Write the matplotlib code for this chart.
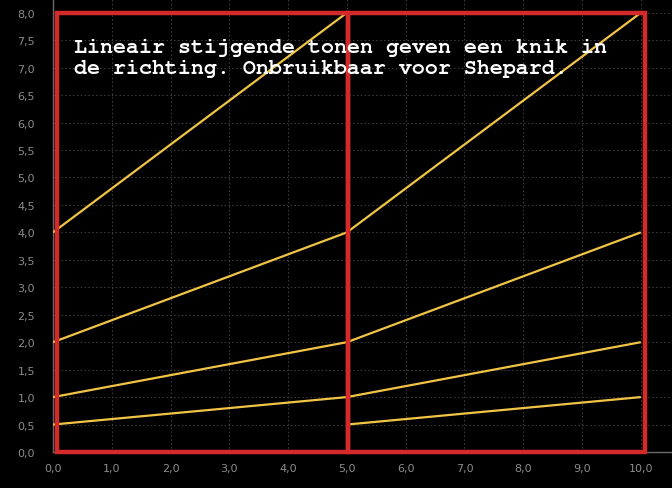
import matplotlib
matplotlib.use("Agg")
import matplotlib.pyplot as plt
from matplotlib.patches import Rectangle

# Data
seg1_x = [0.0, 5.0]
seg1_starts = [0.5, 1.0, 2.0, 4.0]
seg1_ends = [1.0, 2.0, 4.0, 8.0]
seg2_x = [5.0, 10.0]
seg2_starts = [0.5, 1.0, 2.0, 4.0]
seg2_ends = [1.0, 2.0, 4.0, 8.0]
boxes = [(0.07, 5.02), (5.02, 10.07)]
box_y = (0.0, 8.0)
x_ticks = [0, 1, 2, 3, 4, 5, 6, 7, 8, 9, 10]
y_ticks = [i * 0.5 for i in range(17)]
title_text = "Lineair stijgende tonen geven een knik in\nde richting. Onbruikbaar voor Shepard."

fig = plt.figure(figsize=(6.72, 4.89), dpi=100, facecolor="black")
ax = fig.add_axes([53/672, 1 - 453/489, 1 - 53/672, 453/489])
ax.set_facecolor("black")
ax.set_xlim(0, 10.53)
ax.set_ylim(0, 8.25)

ax.set_xticks(x_ticks)
ax.set_yticks(y_ticks)
ax.set_xticklabels([f"{v:.1f}".replace(".", ",") for v in x_ticks])
ax.set_yticklabels([f"{v:.1f}".replace(".", ",") for v in y_ticks])
ax.tick_params(colors="#8c8c8c", labelsize=8, length=0)
ax.tick_params(axis="y", pad=13)
ax.tick_params(axis="x", pad=8)
ax.grid(True, color="#424242", linestyle=(0, (1.5, 2.5)), linewidth=0.7)
ax.set_axisbelow(True)
for s in ["top", "right"]:
    ax.spines[s].set_visible(False)
for s in ["left", "bottom"]:
    ax.spines[s].set_color("#6a6a6a")
    ax.spines[s].set_linewidth(1.0)

yellow = "#f2c445"
for a, b in zip(seg1_starts, seg1_ends):
    ax.plot(seg1_x, [a, b], color=yellow, linewidth=1.6, solid_capstyle="butt", zorder=3)
for a, b in zip(seg2_starts, seg2_ends):
    ax.plot(seg2_x, [a, b], color=yellow, linewidth=1.6, solid_capstyle="butt", zorder=3)

for x0, x1 in boxes:
    ax.add_patch(Rectangle((x0, box_y[0]), x1 - x0, box_y[1] - box_y[0],
                           fill=False, edgecolor="#d42a2a", linewidth=3.2, zorder=4,
                           clip_on=False))

fig.text(74/672, 1 - 58.5/489, title_text, color="white", fontsize=15.6,
         family=["Courier New", "Nimbus Mono PS", "FreeMono", "Liberation Mono"],
         fontweight="bold", va="center", ha="left",
         linespacing=1.17, zorder=5)
fig.savefig("out.png", dpi=100, facecolor="black")
